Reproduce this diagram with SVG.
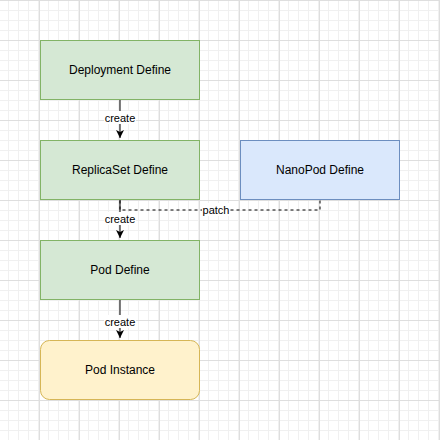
<svg xmlns="http://www.w3.org/2000/svg" width="440" height="440" viewBox="0 0 440 440">
<defs>
<pattern id="minor" width="10" height="10" patternUnits="userSpaceOnUse" x="-1" y="0">
<path d="M0.5 0V10M0 0.5H10" stroke="#f0f0f0" stroke-width="1" fill="none"/>
</pattern>
<pattern id="major" width="40" height="40" patternUnits="userSpaceOnUse" x="-1" y="0">
<rect width="40" height="40" fill="url(#minor)"/>
<path d="M0.5 0V40M0 0.5H40" stroke="#dedede" stroke-width="1" fill="none"/>
</pattern>
<marker id="arr" markerWidth="10" markerHeight="10" refX="8" refY="4" orient="auto" markerUnits="userSpaceOnUse">
<path d="M0,0 L8,4 L0,8 L2,4 Z" fill="#000"/>
</marker>
<style>
.node text{font-family:"Liberation Sans",Arial,sans-serif;font-size:12px;fill:#000;text-anchor:middle}
.g{fill:#d5e8d4;stroke:#82b366;stroke-width:1}
.b{fill:#dae8fc;stroke:#6c8ebf;stroke-width:1}
.y{fill:#fff2cc;stroke:#d6b656;stroke-width:1}
.edge{stroke:#000;stroke-width:1;fill:none}
.lbl{font-family:"Liberation Sans",Arial,sans-serif;font-size:11px;fill:#000;text-anchor:middle}
</style>
</defs>
<rect width="440" height="440" fill="#fff"/>
<rect width="440" height="440" fill="url(#major)"/>

<g id="connectors">
<path class="edge" d="M120 200.5V210H320V200.5" stroke-dasharray="3 3"/>
<rect x="202" y="203" width="28" height="13" fill="#fff"/>
<text class="lbl" x="216" y="213.5">patch</text>

<path class="edge" d="M120 100V138" marker-end="url(#arr)"/>
<rect x="104" y="111" width="32" height="13" fill="#fff"/>
<text class="lbl" x="120" y="121.5">create</text>

<path class="edge" d="M120 200V238" marker-end="url(#arr)"/>
<rect x="104" y="212" width="32" height="13" fill="#fff"/>
<text class="lbl" x="120" y="222.5">create</text>

<path class="edge" d="M120 300V338" marker-end="url(#arr)"/>
<rect x="104" y="315" width="32" height="13" fill="#fff"/>
<text class="lbl" x="120" y="325.5">create</text>
</g>

<g id="deployment" class="node">
<rect class="g" x="40.5" y="40.5" width="159" height="59"/>
<text x="120" y="74">Deployment Define</text>
</g>
<g id="replicaset" class="node">
<rect class="g" x="40.5" y="140.5" width="159" height="59"/>
<text x="120" y="174">ReplicaSet Define</text>
</g>
<g id="nanopod" class="node">
<rect class="b" x="240.5" y="140.5" width="159" height="59"/>
<text x="320" y="174">NanoPod Define</text>
</g>
<g id="pod" class="node">
<rect class="g" x="40.5" y="240.5" width="159" height="59"/>
<text x="120" y="274">Pod Define</text>
</g>
<g id="podinstance" class="node">
<rect class="y" x="40.5" y="340.5" width="159" height="59" rx="9" ry="9"/>
<text x="120" y="374">Pod Instance</text>
</g>
</svg>
